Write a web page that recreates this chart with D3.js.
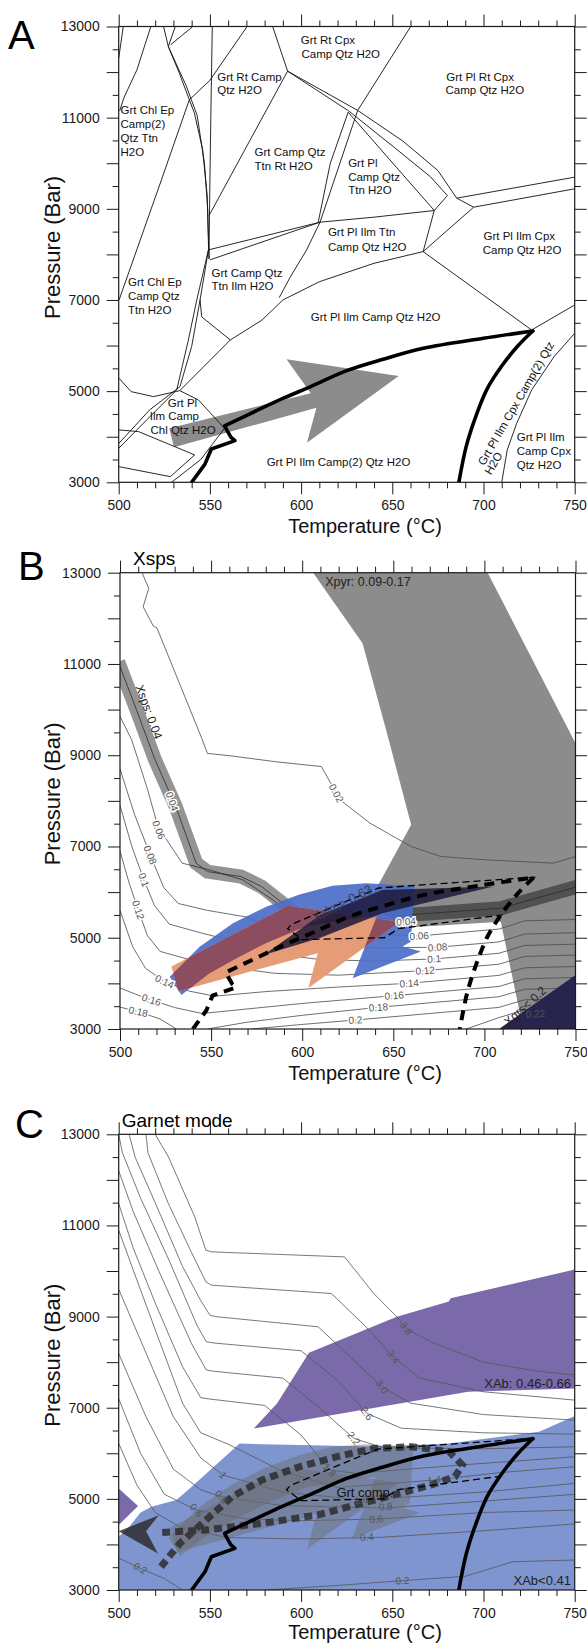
<!DOCTYPE html>
<html><head><meta charset="utf-8">
<script src="https://d3js.org/d3.v7.min.js"></script>
<style>html,body{margin:0;padding:0;background:#fff}svg{display:block}</style>
</head><body>
<svg id="fig" width="587" height="1644"></svg>
<script>
// ---------------- DATA ----------------
const tempTicks=[500,550,600,650,700,750];
const pressTicks=[3000,5000,7000,9000,11000,13000];
const pressMajor=[3000,4000,5000,6000,7000,8000,9000,10000,11000,12000,13000];
const pressMinor=[3500,4500,5500,6500,7500,8500,9500,10500,11500,12500];
const tempMinor=[510,520,530,540,560,570,580,590,610,620,630,640,660,670,680,690,710,720,730,740];

// Panel A: phase boundaries (T, P)
const phaseBoundaries=[
 [[502.5,13000],[500,12300]],
 [[517.6,13000],[510,12050],[503,11450],[500.5,11150]],
 [[524.6,13000],[527.2,12560]],
 [[531,13000],[527.2,12560]],
 [[540.6,13000],[528.5,12600]],
 [[570.4,13000],[549.9,11815],[538.7,11390],[524,9700],[509.9,8100],[500.2,7000]],
 [[527.2,12560],[533,12000],[541.5,11100],[546,10300],[548.5,9300],[549.3,8100]],
 [[527.2,12560],[537,11700],[543,11050],[547,10000],[548.8,9000],[549.5,7900]],
 [[551.3,13000],[550.5,11000],[549.8,9000],[549.5,7900]],
 [[584.4,13000],[592.6,12020]],
 [[592.6,12020],[549.5,8850]],
 [[592.6,12020],[626,11150],[651,10350],[671,9700],[680.2,9290]],
 [[592.6,12020],[631,11160],[656,10480],[675,9840],[685.3,9234]],
 [[660.1,13000],[631,11157],[610.4,8707]],
 [[625.8,11120],[616,10000],[609.4,8707]],
 [[625.8,11120],[673,8963]],
 [[680.2,9290],[673,8963]],
 [[685.3,9234],[694.6,9036]],
 [[685.3,9234],[750,9695]],
 [[694.6,9036],[750,9439]],
 [[673,8963],[640,8817],[610.4,8707]],
 [[673,8963],[666.9,8061]],
 [[694.6,9036],[666.9,8061]],
 [[610.4,8707],[549.3,8100]],
 [[610.4,8707],[550,7880]],
 [[610.4,8707],[603,8097],[594,7500],[588,7050]],
 [[666.9,8061],[640,7805],[610,7400],[590,7000],[578.6,6561],[561.2,6123]],
 [[666.9,8061],[726.4,6342]],
 [[726.4,6342],[750,6891]],
 [[750,6269],[738.7,5757],[726.4,5026],[718.2,4294],[713,3709],[710,3000]],
 [[500.2,5282],[506.8,4989],[519.1,4880],[533.5,5011]],
 [[533.5,5011],[561.2,6123]],
 [[533.5,5011],[543.7,4806],[558,4185]],
 [[500,4150],[510.9,4112],[541.7,3600]],
 [[500,3344],[528.3,3124],[541.7,3600]],
 [[529,3000],[545,3500],[558,4185]],
 [[500,3850],[517,4590],[533.6,5100],[540,5980],[544.6,7000],[549.2,8100]],
 [[500,3745],[515.3,4367],[531.8,5025],[538.2,6122],[542.8,7000],[549.2,8100]],
 [[544.6,7000],[545.5,6630],[561.2,6123]]
];
// P-T path (thick line): zigzag start, then smooth prograde curve, then retrograde branch
const ptZigzag=[[540,3000],[547.3,3400],[550.8,3731],[563.7,3914],[561.5,3990],[558,4240]];
const ptCurve=[[558,4240],[575,4560],[590,4840],[605.3,5100],[625,5450],[645,5700],[667,5940],[700,6160],[727,6320]];
const ptRight=[[727,6320],[719,6000],[710,5550],[702,5050],[696,4470],[690.6,3800],[686.5,3000]];
const arrowA=[[527.7,4185],[605.3,4953],[592,5698],[653.5,5333],[603.2,3870],[608.4,4633],[530.3,3768]];
const fieldLabels=[
 [599.8,12693,"Grt Rt Cpx"],[600.2,12386,"Camp Qtz H2O"],
 [679.6,11903,"Grt Pl Rt Cpx"],[679.2,11596,"Camp Qtz H2O"],
 [554,11903,"Grt Rt Camp"],[554,11610,"Qtz H2O"],
 [501,11172,"Grt Chl Ep"],[501,10865,"Camp(2)"],[501,10558,"Qtz Ttn"],[501,10243,"H2O"],
 [574.5,10243,"Grt Camp Qtz"],[574.5,9936,"Ttn Rt H2O"],
 [625.8,10009,"Grt Pl"],[625.8,9694,"Camp Qtz"],[625.8,9402,"Ttn H2O"],
 [614.7,8488,"Grt Pl Ilm Ttn"],[614.7,8159,"Camp Qtz H2O"],
 [700,8400,"Grt Pl Ilm Cpx"],[699.6,8100,"Camp Qtz H2O"],
 [505.1,7388,"Grt Chl Ep"],[505.1,7095,"Camp Qtz"],[505.1,6781,"Ttn H2O"],
 [550.9,7600,"Grt Camp Qtz"],[550.9,7307,"Ttn Ilm H2O"],
 [605.3,6620,"Grt Pl Ilm Camp Qtz H2O"],
 [526.9,4748,"Grt Pl"],[517,4455,"Ilm Camp"],[517.4,4148,"Chl Qtz H2O"],
 [581.1,3453,"Grt Pl Ilm Camp(2) Qtz H2O"],
 [718.2,4002,"Grt Pl Ilm"],[718.2,3687,"Camp Cpx"],[718.2,3380,"Qtz H2O"]
];
const rotLabels=[[717.8,4733,"Grt Pl Ilm Cpx Camp(2) Qtz",-60],[705.5,3417,"H2O",-60]];

// Panel B
const xpyrField=[[606,13000],[701.8,13000],[750,9260],[750,3000],[721.3,3000],[709,5350],[660,5230],[645,5500],[639,5976],[641.3,6121],[659.8,7474],[647.5,9337],[633.1,11452]];
const bContours=[
 [[512.1,13000],[515.8,12657],[512.7,12255],[518.3,11831],[520.3,11787],[544.9,9368],[548,9040],[560,8990],[585.9,8855],[610.5,8752],[616.7,8314],[620.8,8022],[637.2,7511],[659.8,6999],[676.2,6780],[700.8,6707],[737.7,6634],[750,6780]],
 [[499,11050],[509,10000],[519.3,8892],[530.6,7875],[541.8,6634],[548,6450],[566.4,6341],[577.7,6121],[596.2,5537],[602.3,5244],[620,5280],[640,5380],[657.7,5500],[709,5647],[752,6130]],
 [[500,9850],[506.4,9338],[515.2,8241],[521.3,7364],[524.4,7218],[534.2,6634],[549,6487],[567.5,6268],[583.9,5829],[598.2,5353],[625,5100],[664.2,5040],[708,5190],[722,5370],[750,5400]],
 [[500,8700],[508,7700],[516.6,6816],[524,6100],[532,5750],[548,5600],[570,5450],[590,5050],[610,4870],[640,4780],[674.3,4791],[708,4909],[722,5080],[750,5110]],
 [[500,7900],[506.5,7000],[513.1,6268],[519,5700],[527,5300],[545,5100],[565,4900],[585,4650],[610,4520],[640,4490],[672.4,4535],[708,4660],[722,4830],[750,4860]],
 [[500,6900],[505,6200],[510,5610],[515,5050],[522,4700],[540,4500],[560,4350],[585,4220],[620,4180],[667.5,4280],[708,4420],[722,4590],[750,4620]],
 [[500,5600],[507,4800],[514,4330],[524.4,4038],[538,3830],[552,3720],[580,3820],[620,3920],[658.7,4002],[708,4175],[722,4340],[750,4370]],
 [[500,3900],[510,3740],[517.2,3636],[530,3470],[545,3340],[560,3400],[600,3560],[650.5,3731],[708,3932],[722,4100],[750,4130]],
 [[500,3480],[510,3380],[522,3220],[531,3000]],
 [[548,3000],[570,3150],[600,3300],[641.8,3475],[708,3707],[722,3870],[750,3900]],
 [[572,3000],[600,3100],[629.2,3197],[708,3473],[722,3640],[750,3670]],
 [[690,3000],[708,3250],[722,3420],[750,3440]]
];
const xspsBand=[[499,11050],[509,10000],[519.3,8892],[530.6,7875],[541.8,6634],[548,6450],[566.4,6341],[577.7,6121],[596.2,5537],[602.3,5244],[620,5280],[640,5380],[657.7,5500],[709,5647],[752,6130]];
const bContourLabels=[
 [618.7,8170,"0.02",62],[528.5,7985,"0.04",72],[521.3,7364,"0.06",68],[516.6,6816,"0.08",68],[513.1,6268,"0.1",70],[510,5610,"0.12",72],[524.4,4038,"0.14",26],[517.2,3636,"0.16",18],[510,3380,"0.18",12],
 [657,5353,"0.04",-4],[664.2,5039,"0.06",-4],[674.3,4791,"0.08",-4],[672.4,4535,"0.1",-4],[667.5,4280,"0.12",-4],[658.7,4002,"0.14",-4],[650.5,3731,"0.16",-4],[641.8,3475,"0.18",-4],[629.2,3197,"0.2",-4],[728,3330,"0.22",-4]
];
const xgrsField=[[708,3000],[750,4184],[750,3000]];
const xalmArrow=[[527.3,4147],[543.7,4805],[562,5316],[580.3,5681],[598.5,5950],[616.7,6140],[635,6196],[661.5,6136],[659.7,4915],[655.1,4806],[665.1,4696],[627.7,4111],[641,5480],[631,5440],[602.3,5250],[580,4880],[565.6,4586],[549.2,4221],[533.7,3746]];
const grsArrow=[[528.2,4367],[592.1,5700],[653.6,5353],[603.4,3900],[608.5,4660],[532,3830]];
const darkWedge=[[578.8,4623],[610,5500],[644,6048],[705,6121],[644,5537],[610,5000]];
const grtCompBox=[[728,6330],[642,6090],[626,5830],[594,5290],[592,5200],[600,4960],[645,5000],[653,5200],[710,5500]];

// Panel C
const abHighField=[[574.1,6546],[586.8,7094],[604.3,8205],[652.5,8995],[681,9330],[682,9400],[750,10033],[750,7423],[691.5,7349]];
const abHighTip=[[500,5230],[510.6,4842],[500,4425]];
const abLowField=[[500,3000],[500,4169],[506,4400],[512,4700],[517.9,4827],[531.6,4974],[538,5193],[566.3,6217],[578.6,6200],[640,6150],[681,6217],[730.5,6472],[750,6816],[750,3000]];
const cContours=[
 [[520,13000],[527.3,12503],[541.7,11187],[547.8,10456],[550.9,10420],[623.8,10310],[640,9500],[652.5,8994],[657.6,8739],[671,8446],[700,8000],[730,7800],[750,7715]],
 [[515,13000],[516,12600],[527,11500],[540,10400],[547.8,9762],[550.9,9689],[616.6,9506],[635,8800],[650.5,8117],[665,7650],[700,7350],[750,7167]],
 [[505.7,13000],[509,12500],[520,11500],[535,10100],[545,9350],[550,9031],[553,9000],[609.4,8775],[630,8000],[644.3,7459],[660,7100],[700,6850],[750,6728]],
 [[500,13000],[502,12600],[512,11600],[528,10200],[543,8800],[548,8450],[552,8420],[600,8250],[620,7600],[636.1,6875],[655,6550],[700,6450],[750,6420]],
 [[500,12200],[508,11300],[522,10000],[540,8400],[548,7830],[552,7800],[590,7650],[610,7000],[628.9,6327],[645,6120],[700,6100],[750,6143]],
 [[500,11480],[508,10500],[520,9300],[535,7900],[545,7220],[550,7190],[580,7050],[600,6400],[615.6,5632],[630,5560],[690,5750],[750,5923]],
 [[500,10895],[510,9800],[522,8500],[535,7100],[545,6450],[560,6200],[590,5600],[620,5250],[673,5412],[710,5580],[750,5704]],
 [[500,9600],[515,8200],[530,6800],[545,5900],[557.2,5522],[590,5150],[633,4974],[700,5150],[750,5340]],
 [[500,8190],[515,6800],[530,5650],[545,5200],[556.3,5046],[590,4850],[646.3,4800],[700,4950],[750,5100]],
 [[500,7200],[512,6000],[525,5100],[542.6,4754],[570,4560],[600,4520],[641.2,4557],[700,4700],[750,4754]],
 [[500,6217],[510,5300],[520,4700],[535,4350],[560,4150],[600,4120],[643.3,4155],[700,4300],[750,4450]],
 [[500,3700],[511.9,3475],[525,3250],[535,3000]],
 [[580,3000],[620,3100],[655.6,3205],[690,3300],[716,3620],[750,3658]]
];
const cContourLabels=[
 [657.6,8739,"3.8",55],[650.5,8117,"3.4",55],[644.3,7459,"3.0",55],[636.1,6875,"2.6",55],[628.9,6327,"2.2",50],[615.6,5632,"1.8",45],
 [557.2,5522,"1",50],[556.3,5046,"0.8",50],[542.6,4754,"0.6",50],[673,5412,"1.4",-8],[633,4974,"1.0",-5],[646.3,4830,"0.8",-5],[641.2,4557,"0.6",-5],[636,4160,"0.4",-5],[655.6,3205,"0.2",-3],[511.9,3475,"0.2",30]
];
const retroPath=[[523.2,3511],[533.5,4023],[545.8,4462],[562.2,5047],[578.6,5413],[599.1,5705],[619.7,5925],[640.2,6108],[660.7,6144],[681.2,6035],[688.4,5742],[684.3,5486],[671,5303],[640.2,4974],[609.4,4650],[578.6,4462],[547.8,4316],[521.1,4257]];
const retroHead=[[500,4290],[522,4640],[515,4290],[521.5,3800]];

// ---------------- DRAWING ----------------
const FONT='Arial, "Liberation Sans", Helvetica, sans-serif';
const svg=d3.select('#fig');
const defs=svg.append('defs');
svg.append('rect').attr('width',587).attr('height',1644).attr('fill','#fff');

function makePanel(id,box){
  const x=d3.scaleLinear().domain([500,750]).range([box.l,box.r]);
  const y=d3.scaleLinear().domain([3000,13000]).range([box.b,box.t]);
  const g=svg.append('g').attr('id','panel'+id);
  defs.append('clipPath').attr('id','clip'+id).append('rect')
    .attr('x',box.l).attr('y',box.t).attr('width',box.r-box.l).attr('height',box.b-box.t);
  const plot=g.append('g').attr('clip-path',`url(#clip${id})`);
  const ln=d3.line().x(d=>x(d[0])).y(d=>y(d[1]));
  const sm=d3.line().x(d=>x(d[0])).y(d=>y(d[1])).curve(d3.curveCatmullRom.alpha(0.5));
  return {id,box,x,y,g,plot,ln,sm,poly:p=>ln(p)+'Z'};
}
function ptPath(P){ return P.ln(ptZigzag)+P.sm(ptCurve).replace(/^M[^CL]*/,'L'+P.x(ptCurve[0][0])+','+P.y(ptCurve[0][1])); }
function drawAxes(P,letter,lx,ly,title,tx,ty){
  const {x,y,g,box}=P;
  const ax=g.append('g');
  const st=s=>{s.select('.domain').remove();s.selectAll('line').attr('stroke','#1a1a1a').attr('stroke-width',1);
    s.selectAll('text').attr('font-family',FONT).attr('font-size',14).attr('fill','#1a1a1a');};
  const none=()=>'';
  ax.append('g').attr('transform',`translate(0,${box.b})`).call(d3.axisBottom(x).tickValues(tempMinor).tickSize(6).tickFormat(none)).call(st);
  ax.append('g').attr('transform',`translate(0,${box.b})`).call(d3.axisBottom(x).tickValues(tempTicks).tickSize(12).tickPadding(6).tickFormat(d=>String(d))).call(st);
  ax.append('g').attr('transform',`translate(0,${box.t})`).call(d3.axisTop(x).tickValues(tempMinor).tickSize(6).tickFormat(none)).call(st);
  ax.append('g').attr('transform',`translate(0,${box.t})`).call(d3.axisTop(x).tickValues(tempTicks).tickSize(12).tickFormat(none)).call(st);
  ax.append('g').attr('transform',`translate(${box.l},0)`).call(d3.axisLeft(y).tickValues(pressMinor).tickSize(6).tickFormat(none)).call(st);
  ax.append('g').attr('transform',`translate(${box.l},0)`).call(d3.axisLeft(y).tickValues(pressMajor).tickSize(12).tickPadding(7).tickFormat(d=>pressTicks.includes(d)?String(d):'')).call(st);
  ax.append('g').attr('transform',`translate(${box.r},0)`).call(d3.axisRight(y).tickValues(pressMinor).tickSize(6).tickFormat(none)).call(st);
  ax.append('g').attr('transform',`translate(${box.r},0)`).call(d3.axisRight(y).tickValues(pressMajor).tickSize(12).tickFormat(none)).call(st);
  ax.append('rect').attr('x',box.l).attr('y',box.t).attr('width',box.r-box.l).attr('height',box.b-box.t)
    .attr('fill','none').attr('stroke','#1a1a1a').attr('stroke-width',1.2);
  g.append('text').attr('x',365).attr('y',Math.min(box.b+51,1639)).attr('text-anchor','middle').attr('font-family',FONT).attr('font-size',20).attr('fill','#111').text('Temperature (°C)');
  g.append('text').attr('transform',`translate(60,${(box.t+box.b)/2-7}) rotate(-90)`).attr('text-anchor','middle').attr('font-family',FONT).attr('font-size',22).attr('fill','#111').text('Pressure (Bar)');
  g.append('text').attr('x',lx).attr('y',ly).attr('font-family',FONT).attr('font-size',40).attr('fill','#000').text(letter);
  if(title) g.append('text').attr('x',tx).attr('y',ty).attr('font-family',FONT).attr('font-size',19).attr('fill','#000').text(title);
}
function contourLabels(P,data,halo){
  P.g.append('g').selectAll('text').data(data).join('text')
   .attr('transform',d=>`translate(${P.x(d[0])},${P.y(d[1])}) rotate(${d[3]})`)
   .attr('text-anchor','middle').attr('dy','0.35em')
   .attr('font-family',FONT).attr('font-size',10).attr('fill','#555')
   .attr('stroke',halo?'#fff':'none').attr('stroke-width',halo?3:0).attr('paint-order','stroke')
   .text(d=>d[2]);
}

// ===== Panel A =====
const A=makePanel('A',{l:118.7,r:574.7,t:26.5,b:482.3});
A.plot.append('path').attr('d',A.poly(arrowA)).attr('fill','#8c8c8c');
A.plot.selectAll('path.pb').data(phaseBoundaries).join('path').attr('class','pb')
  .attr('d',d=>A.ln(d)).attr('fill','none').attr('stroke','#111').attr('stroke-width',0.9);
A.plot.append('path').attr('d',ptPath(A)).attr('fill','none').attr('stroke','#000').attr('stroke-width',3.6).attr('stroke-linejoin','round').attr('stroke-linecap','round');
A.plot.append('path').attr('d',A.sm(ptRight)).attr('fill','none').attr('stroke','#000').attr('stroke-width',3.6).attr('stroke-linecap','round');
A.g.append('g').selectAll('text').data(fieldLabels).join('text')
  .attr('x',d=>A.x(d[0])).attr('y',d=>A.y(d[1])+4)
  .attr('font-family',FONT).attr('font-size',11.5).attr('fill','#111').text(d=>d[2]);
A.g.append('g').selectAll('text').data(rotLabels).join('text')
  .attr('transform',d=>`translate(${A.x(d[0])},${A.y(d[1])}) rotate(${d[3]})`)
  .attr('text-anchor','middle').attr('dy','0.35em')
  .attr('font-family',FONT).attr('font-size',11.5).attr('fill','#111').text(d=>d[2]);
drawAxes(A,'A',8,49,null);

// ===== Panel B =====
const B=makePanel('B',{l:120,r:575.5,t:572.7,b:1029});
B.plot.append('path').attr('d',B.poly(xpyrField)).attr('fill','#8c8c8c');
B.plot.selectAll('path.ct').data(bContours).join('path').attr('class','ct')
  .attr('d',d=>B.ln(d)).attr('fill','none').attr('stroke','#4a4a4a').attr('stroke-width',0.8);
B.plot.append('path').attr('d',B.ln(xspsBand)).attr('fill','none').attr('stroke','#000').attr('stroke-opacity',0.42)
  .attr('stroke-width',14).attr('stroke-linejoin','miter');
B.plot.append('path').attr('d',B.poly(xgrsField)).attr('fill','#27244d');
defs.append('clipPath').attr('id','clipBlue').append('path').attr('d',B.poly(xalmArrow));
B.plot.append('path').attr('d',B.poly(xalmArrow)).attr('fill','#4b6ec8').attr('fill-opacity',0.92);
B.plot.append('path').attr('d',B.poly(grsArrow)).attr('fill','#e69c76');
B.plot.append('g').attr('clip-path','url(#clipBlue)').append('path').attr('d',B.poly(grsArrow)).attr('fill','#8d4d60');
B.plot.append('path').attr('d',B.poly(darkWedge)).attr('fill','#1c193a').attr('fill-opacity',0.85);
B.plot.append('path').attr('d',B.ln(grtCompBox)).attr('fill','none').attr('stroke','#000').attr('stroke-width',1.3).attr('stroke-dasharray','7,4');
B.plot.append('path').attr('d',ptPath(B)).attr('fill','none').attr('stroke','#000').attr('stroke-width',4).attr('stroke-dasharray','10,7');
B.plot.append('path').attr('d',B.sm(ptRight)).attr('fill','none').attr('stroke','#000').attr('stroke-width',4).attr('stroke-dasharray','10,7');
contourLabels(B,bContourLabels.slice(0,-1),true);
contourLabels(B,bContourLabels.slice(-1),false);
B.g.append('text').attr('x',B.x(612.6)).attr('y',B.y(12800)+4).attr('font-family',FONT).attr('font-size',12.5).attr('fill','#222').text('Xpyr: 0.09-0.17');
B.g.append('text').attr('transform',`translate(149,712) rotate(70)`).attr('text-anchor','middle').attr('dy','0.35em').attr('font-family',FONT).attr('font-size',12).attr('fill','#222').text('Xsps: 0.04');
B.g.append('text').attr('transform',`translate(${B.x(621.8)},${B.y(5757)}) rotate(-27)`).attr('text-anchor','middle').attr('dy','0.35em').attr('font-family',FONT).attr('font-size',13).attr('fill','#3a3f5a').text('Xalm> 0.63');
B.g.append('text').attr('transform',`translate(525,1006) rotate(-42)`).attr('text-anchor','middle').attr('dy','0.35em').attr('font-family',FONT).attr('font-size',12).attr('fill','#222').text('Xgrs< 0.2');
drawAxes(B,'B',18,580,'Xsps',133,565);

// ===== Panel C =====
const C=makePanel('C',{l:118.7,r:574.7,t:1134.3,b:1590});
C.plot.append('path').attr('d',C.poly(abLowField)).attr('fill','#7e95cf');
C.plot.append('path').attr('d',C.poly(abHighField)).attr('fill','#7a6aaa');
C.plot.append('path').attr('d',C.poly(abHighTip)).attr('fill','#7a6aaa');
C.plot.selectAll('path.ct').data(cContours).join('path').attr('class','ct')
  .attr('d',d=>C.ln(d)).attr('fill','none').attr('stroke','#555').attr('stroke-width',0.8);
C.plot.selectAll('path.ga').data([xalmArrow,grsArrow]).join('path').attr('class','ga')
  .attr('d',d=>C.poly(d)).attr('fill','#6a6a6a').attr('fill-opacity',0.45);
C.plot.append('path').attr('d',C.ln(retroPath)).attr('fill','none').attr('stroke','#2e2e2e').attr('stroke-opacity',0.85)
  .attr('stroke-width',7).attr('stroke-dasharray','8,5');
C.plot.append('path').attr('d',C.poly(retroHead)).attr('fill','#2e2e2e').attr('fill-opacity',0.85);
C.plot.append('path').attr('d',C.ln(grtCompBox)).attr('fill','none').attr('stroke','#000').attr('stroke-width',1.3).attr('stroke-dasharray','7,4');
C.plot.append('path').attr('d',ptPath(C)).attr('fill','none').attr('stroke','#000').attr('stroke-width',3.6).attr('stroke-linejoin','round').attr('stroke-linecap','round');
C.plot.append('path').attr('d',C.sm(ptRight)).attr('fill','none').attr('stroke','#000').attr('stroke-width',3.6).attr('stroke-linecap','round');
contourLabels(C,cContourLabels,false);
C.g.append('text').attr('x',C.x(635)).attr('y',C.y(5120)+4).attr('text-anchor','middle').attr('font-family',FONT).attr('font-size',13).attr('fill','#111').text('Grt comp.');
C.g.append('text').attr('x',571).attr('y',C.y(7546)+5).attr('text-anchor','end').attr('font-family',FONT).attr('font-size',13).attr('fill','#222').text('XAb: 0.46-0.66');
C.g.append('text').attr('x',571).attr('y',C.y(3219)+5).attr('text-anchor','end').attr('font-family',FONT).attr('font-size',13).attr('fill','#222').text('XAb<0.41');
drawAxes(C,'C',15,1138,'Garnet mode',121.7,1127);
</script>
</body></html>
